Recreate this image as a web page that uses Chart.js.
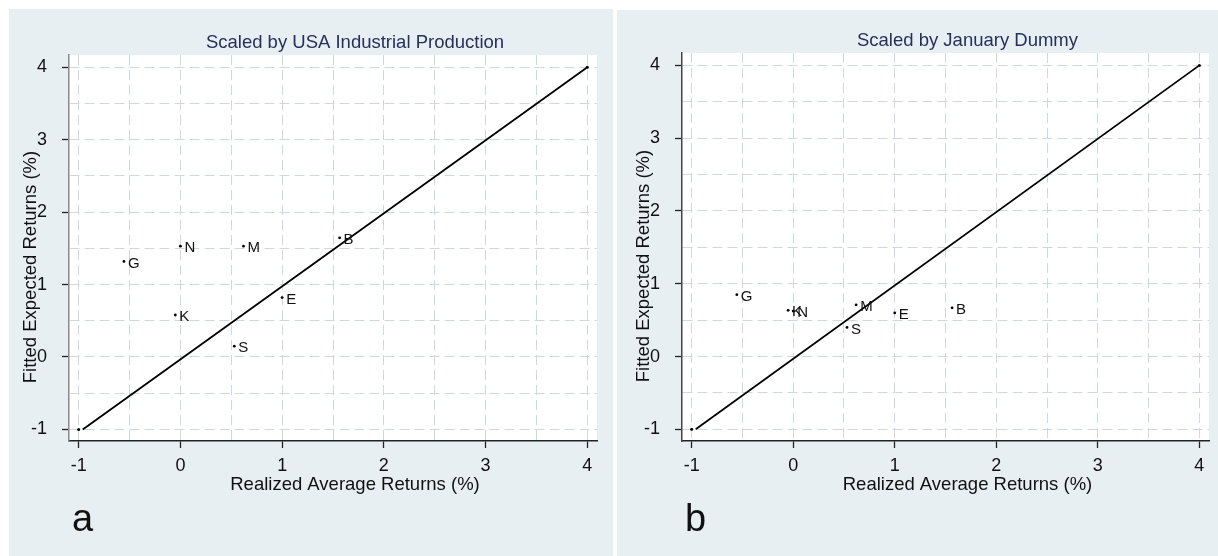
<!DOCTYPE html>
<html lang="en">
<head>
<meta charset="UTF-8">
<title>Fitted vs Realized Returns</title>
<script src="https://cdn.jsdelivr.net/npm/chart.js@4.4.0/dist/chart.umd.min.js"></script>
<style>
    * { margin: 0; padding: 0; box-sizing: border-box; }
    body { width: 1218px; height: 556px; background: #fff; position: relative; overflow: hidden; }
    .panel { position: absolute; background: #e8eff2; }
    #panelA { left: 9px; top: 9px; width: 604px; height: 547px; }
    #panelB { left: 617px; top: 10px; width: 601px; height: 546px; }
</style>
</head>
<body>
<div class="panel" id="panelA"><canvas id="chartA"></canvas></div>
<div class="panel" id="panelB"><canvas id="chartB"></canvas></div>

<script>
// portfolio labels and returns (%)
const portfolios = ['G', 'K', 'N', 'S', 'M', 'E', 'B'];
const realized   = [-0.555, -0.05, 0.0, 0.53, 0.62, 1.0, 1.565];
const fittedIP   = [1.32, 0.58, 1.53, 0.15, 1.53, 0.82, 1.645];
const fittedJan  = [0.85, 0.635, 0.625, 0.40, 0.71, 0.60, 0.67];

// 45 degree line and its end markers
const lineX = [-0.96, 4];
const lineY = [-1, 4];
const endX = [-1, 4];
const endY = [-1, 4];

// grid positions (labels only on whole numbers)
const gridSteps = [-1, -0.5, 0, 0.5, 1, 1.5, 2, 2.5, 3, 3.5, 4];

const FONT = '"Liberation Sans", Arial, sans-serif';

const stataText = {
    id: 'stataText',
    beforeDraw(chart) {
        const { ctx, chartArea: a } = chart;
        ctx.save();
        ctx.fillStyle = '#fff';
        ctx.fillRect(a.left, a.top, a.right - a.left, a.bottom - a.top);
        ctx.restore();
    },
    afterDatasetsDraw(chart) {
        const ctx = chart.ctx;
        const meta = chart.getDatasetMeta(2);
        ctx.save();
        ctx.font = '15px ' + FONT;
        ctx.fillStyle = '#111';
        ctx.textAlign = 'left';
        ctx.textBaseline = 'middle';
        meta.data.forEach((pt, i) => ctx.fillText(portfolios[i], pt.x + 4, pt.y + 2));
        ctx.restore();
    },
    afterDraw(chart, args, opts) {
        const { ctx, chartArea: a } = chart;
        const cx = (a.left + a.right) / 2 + 22;
        ctx.save();
        ctx.textAlign = 'center';
        ctx.textBaseline = 'alphabetic';

        ctx.font = '18.5px ' + FONT;
        ctx.fillStyle = '#26305a';
        ctx.fillText(opts.title, cx, a.top - 7);

        ctx.fillStyle = '#111';
        ctx.fillText('Realized Average Returns (%)', cx, a.bottom + 48.5);

        ctx.save();
        ctx.translate(a.left - 38, (a.top + a.bottom) / 2 + 19);
        ctx.rotate(-Math.PI / 2);
        ctx.textBaseline = 'middle';
        ctx.fillText('Fitted Expected Returns (%)', 0, 0);
        ctx.restore();

        ctx.font = '38px ' + FONT;
        ctx.textAlign = 'left';
        ctx.fillText(opts.letter, a.left + 3, a.bottom + 90);
        ctx.restore();
    }
};

const wholeOnly = v => Number.isInteger(v) ? String(v) : '';

function makeChart(id, fitted, cfg) {
    return new Chart(document.getElementById(id), {
        type: 'scatter',
        data: {
            datasets: [
                {
                    type: 'line',
                    data: lineX.map((x, i) => ({ x: x, y: lineY[i] })),
                    borderColor: '#000',
                    borderWidth: 1.8,
                    pointRadius: 0,
                    fill: false
                },
                {
                    data: endX.map((x, i) => ({ x: x, y: endY[i] })),
                    pointRadius: 1.5,
                    backgroundColor: '#000',
                    borderWidth: 0
                },
                {
                    data: realized.map((x, i) => ({ x: x, y: fitted[i] })),
                    pointRadius: 1.4,
                    backgroundColor: '#000',
                    borderWidth: 0
                }
            ]
        },
        options: {
            responsive: true,
            maintainAspectRatio: false,
            animation: false,
            layout: { padding: { top: cfg.top, right: cfg.right, left: 0, bottom: 0 } },
            plugins: {
                legend: { display: false },
                tooltip: { enabled: false },
                stataText: { title: cfg.title, letter: cfg.letter }
            },
            scales: {
                x: {
                    type: 'linear',
                    min: -1.095,
                    max: 4.095,
                    afterBuildTicks: s => { s.ticks = gridSteps.map(v => ({ value: v })); },
                    afterFit: s => { s.height = 115; },
                    ticks: {
                        callback: wholeOnly,
                        autoSkip: false,
                        maxRotation: 0,
                        padding: 7,
                        color: '#111',
                        font: { family: FONT, size: 18 }
                    },
                    grid: {
                        color: '#cdd8e4',
                        lineWidth: 1,
                        tickLength: 7,
                        tickWidth: 1.3,
                        tickColor: c => Number.isInteger(c.tick.value) ? '#222' : 'rgba(0,0,0,0)'
                    },
                    border: { color: '#222', width: 1.5, dash: [10, 5] }
                },
                y: {
                    type: 'linear',
                    min: -1.16,
                    max: 4.17,
                    afterBuildTicks: s => { s.ticks = gridSteps.map(v => ({ value: v })); },
                    afterFit: s => { s.width = cfg.left; },
                    ticks: {
                        callback: wholeOnly,
                        autoSkip: false,
                        padding: 15,
                        color: '#111',
                        font: { family: FONT, size: 18 }
                    },
                    grid: {
                        color: '#cdd8e4',
                        lineWidth: 1,
                        tickLength: 7,
                        tickWidth: 1.3,
                        tickColor: c => Number.isInteger(c.tick.value) ? '#222' : 'rgba(0,0,0,0)'
                    },
                    border: { color: cfg.axisColor, width: 1.5, dash: [10, 5] }
                }
            }
        },
        plugins: [stataText]
    });
}

makeChart('chartA', fittedIP, {
    title: 'Scaled by USA Industrial Production', letter: 'a',
    top: 46, right: 16, left: 60, axisColor: '#8a8a8a'
});
makeChart('chartB', fittedJan, {
    title: 'Scaled by January Dummy', letter: 'b',
    top: 43, right: 9, left: 65, axisColor: '#444'
});
</script>
</body>
</html>
